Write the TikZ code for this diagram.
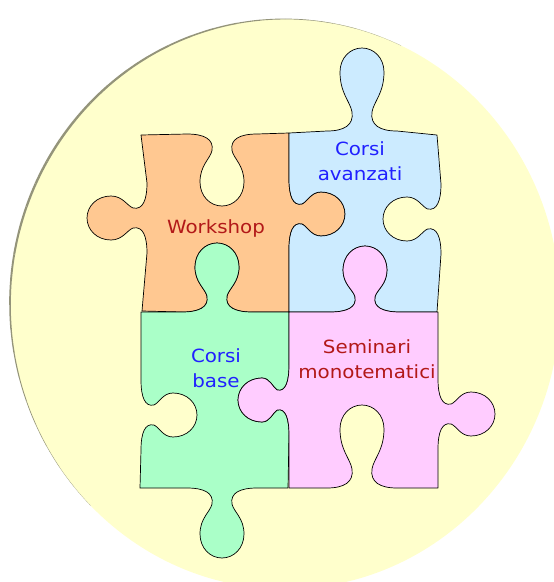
\documentclass[tikz,border=0pt]{standalone}
\usepackage{xcolor}
\usepackage{fontspec}
\setmainfont{DejaVu Sans}[FakeStretch=1.09]
\usepackage{tikz}
\usetikzlibrary{positioning}
\definecolor{paleyellow}{RGB}{255,255,204}
\definecolor{rimgray}{RGB}{148,148,122}
\definecolor{pastelorange}{RGB}{255,200,145}
\definecolor{pastelblue}{RGB}{204,235,255}
\definecolor{pastelgreen}{RGB}{170,255,200}
\definecolor{pastelpink}{RGB}{255,204,255}
\definecolor{labelred}{RGB}{178,24,24}
\definecolor{labelblue}{RGB}{32,32,255}

%% point of a tab: centre, base line, run direction, outward sense, u, w
\newcommand{\tabpx}[6]{({#1+(#3)*(#5)},{#2+(#4)*(#6)})}
\newcommand{\tabpy}[6]{({#2+(#4)*(#6)},{#1+(#3)*(#5)})}
%% one tab: point macro, centre, base line, run direction, outward sense, reach
\newcommand{\puzzletab}[6]{%
	-- #1{#2}{#3}{#4}{#5}{-35}{0}
	.. controls #1{#2}{#3}{#4}{#5}{-18}{0} and #1{#2}{#3}{#4}{#5}{-8}{0.07*#6} .. #1{#2}{#3}{#4}{#5}{-10}{0.23*#6}
	.. controls #1{#2}{#3}{#4}{#5}{-12}{0.438*#6-6.5} and #1{#2}{#3}{#4}{#5}{-22}{0.592*#6-11.3} .. #1{#2}{#3}{#4}{#5}{-22}{#6-24}
	.. controls #1{#2}{#3}{#4}{#5}{-22}{#6-10} and #1{#2}{#3}{#4}{#5}{-12}{#6} .. #1{#2}{#3}{#4}{#5}{0}{#6}
	.. controls #1{#2}{#3}{#4}{#5}{12}{#6} and #1{#2}{#3}{#4}{#5}{22}{#6-10} .. #1{#2}{#3}{#4}{#5}{22}{#6-24}
	.. controls #1{#2}{#3}{#4}{#5}{22}{0.592*#6-11.3} and #1{#2}{#3}{#4}{#5}{12}{0.438*#6-6.5} .. #1{#2}{#3}{#4}{#5}{10}{0.23*#6}
	.. controls #1{#2}{#3}{#4}{#5}{8}{0.07*#6} and #1{#2}{#3}{#4}{#5}{18}{0} .. #1{#2}{#3}{#4}{#5}{35}{0}
}

\begin{document}
\begin{tikzpicture}[x=1pt, y=-1pt,
	piece/.style={draw=black, line width=0.7pt, line join=round},
	label text/.style={anchor=base, inner sep=0pt, align=center, font=\fontsize{18.2}{25}\selectfont}]
	\useasboundingbox (0,0) rectangle (554,582);
	
	%% the disc behind the puzzle
	\fill[paleyellow] (285,304) ellipse [x radius=275, y radius=285];
	\foreach \a in {0,5,...,355}{
		\pgfmathsetmacro{\rimw}{2.4*max(0,cos(\a+2.5-215))^2}
		\ifdim\rimw pt>0.05pt
		\draw[rimgray, line width=\rimw pt] (285,304) ++(\a:275 and 285) arc[start angle=\a, delta angle=5, x radius=275, y radius=285];
		\fi
	}
	
	%% the four pieces
	\draw[piece, fill=pastelorange] (141,135) \puzzletab{\tabpx}{222}{134}{1}{1}{72} -- (289,133)
		\puzzletab{\tabpy}{214}{289}{1}{1}{56} -- (289,312)
		\puzzletab{\tabpx}{217}{312}{-1}{-1}{69} -- (142,311)
		\puzzletab{\tabpy}{218}{147}{-1}{-1}{60} -- cycle;
	\draw[piece, fill=pastelblue] (289,133) \puzzletab{\tabpx}{362}{131}{1}{-1}{83} -- (437,135)
		\puzzletab{\tabpy}{219}{441}{1}{-1}{58} -- (437,312)
		\puzzletab{\tabpx}{365}{312}{-1}{-1}{66} -- (289,312)
		\puzzletab{\tabpy}{214}{289}{-1}{1}{56} -- cycle;
	\draw[piece, fill=pastelgreen] (141,312) \puzzletab{\tabpx}{217}{312}{1}{-1}{69} -- (289,312)
		\puzzletab{\tabpy}{400}{289}{1}{-1}{51} -- (288,488)
		\puzzletab{\tabpx}{222}{488}{-1}{1}{70} -- (140,488)
		\puzzletab{\tabpy}{415}{141}{-1}{1}{56} -- cycle;
	\draw[piece, fill=pastelpink] (289,312) \puzzletab{\tabpx}{365}{312}{1}{-1}{66} -- (438,312)
		\puzzletab{\tabpy}{414}{438}{1}{1}{57} -- (438,488)
		\puzzletab{\tabpx}{362}{488}{-1}{-1}{83} -- (289,488)
		\puzzletab{\tabpy}{400}{289}{-1}{-1}{51} -- cycle;
	
	%% labels (base = last line)
	\node[label text, text=labelred] (workshop) at (216,233) {Workshop};
	\node[label text, text=labelblue] (avanzati) at (360,180) {Corsi\\avanzati};
	\node[label text, text=labelblue] (corsibase) at (216,387) {Corsi\\base};
	\node[label text, text=labelred] (seminari) at (367,378) {Seminari\\monotematici};
\end{tikzpicture}
\end{document}
